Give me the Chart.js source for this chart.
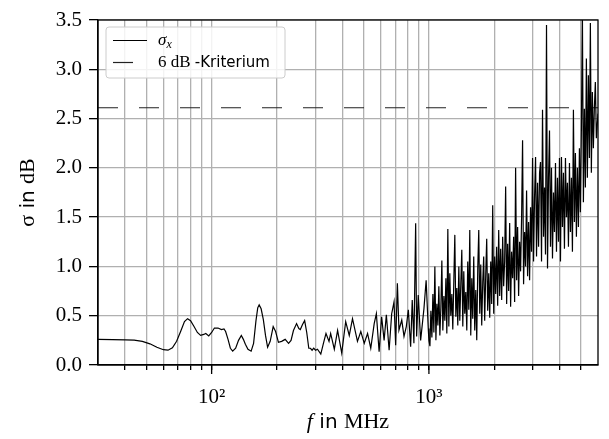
<!DOCTYPE html>
<html lang="de">
<head>
<meta charset="UTF-8">
<title>σ in dB</title>
<script src="https://cdn.jsdelivr.net/npm/chart.js"></script>
<style>
    body { margin: 0; background: #fff; }
    #wrap { width: 609px; height: 439px; }
</style>
</head>
<body>
<div id="wrap"><canvas id="sigmaChart" width="609" height="439"></canvas></div>
<script>
    // Frequenz in MHz
    const freqMHz = [
        30, 35, 40, 44, 48, 52, 56, 60, 63, 66, 69, 72, 75, 77.5, 80, 83, 86, 89, 92, 94, 97,
        100, 103, 107, 111, 114, 116, 119, 122, 125, 129, 133, 137, 140, 143, 147, 152, 156, 160,
        163, 165.5, 169, 173, 177, 181, 186, 192, 197, 203, 210, 218, 226, 232, 238, 246, 252,
        256, 262, 268, 274, 280, 285, 290, 295, 301, 307, 318, 327, 336, 347, 353, 367, 380, 397,
        414, 430, 445, 469, 486, 504, 522, 540, 560, 573, 590, 606, 622, 637, 656, 674, 691, 703,
        716, 728, 750, 768, 787, 804, 824, 838, 853, 869, 878, 893, 916, 949, 971, 993,
        1000, 1011, 1021, 1032, 1043, 1054, 1065, 1077, 1088, 1100,
        1111, 1123, 1135, 1147, 1159, 1172, 1184, 1197, 1209, 1222,
        1235, 1248, 1261, 1275, 1288, 1302, 1316, 1330, 1344, 1358,
        1373, 1387, 1402, 1417, 1432, 1447, 1462, 1478, 1494, 1509,
        1526, 1542, 1558, 1575, 1591, 1608, 1625, 1643, 1660, 1678,
        1696, 1714, 1732, 1750, 1769, 1787, 1806, 1826, 1845, 1864,
        1885, 1905, 1925, 1945, 1966, 1987, 2007, 2029, 2050, 2072,
        2095, 2117, 2139, 2162, 2185, 2208, 2231, 2255, 2279, 2303,
        2328, 2353, 2377, 2402, 2428, 2454, 2480, 2506, 2533, 2560,
        2587, 2615, 2642, 2670, 2698, 2727, 2756, 2785, 2815, 2845,
        2875, 2906, 2936, 2967, 2999, 3031, 3063, 3096, 3128, 3162,
        3196, 3230, 3263, 3298, 3333, 3369, 3404, 3440, 3477, 3514,
        3552, 3589, 3627, 3665, 3704, 3744, 3783, 3824, 3864, 3905,
        3947, 3989, 4031, 4074, 4117, 4161, 4205, 4250, 4295, 4340,
        4387, 4434, 4480, 4528, 4576, 4624, 4673, 4723, 4773, 4824,
        4876, 4928, 4979, 5032, 5085, 5140, 5194, 5249, 5305, 5361,
        5419, 5477, 5534, 5592, 5652, 5712, 5772, 5834, 5896, 6000
    ];
    // sigma_x in dB
    const sigmaX = [
        0.26, 0.258, 0.255, 0.252, 0.24, 0.215, 0.18, 0.155, 0.15, 0.175, 0.24, 0.34, 0.44, 0.47, 0.45, 0.39, 0.33, 0.30, 0.31, 0.32, 0.295,
        0.33, 0.375, 0.375, 0.36, 0.365, 0.34, 0.26, 0.17, 0.14, 0.17, 0.25, 0.30, 0.26, 0.21, 0.16, 0.14, 0.22, 0.45,
        0.58, 0.61, 0.57, 0.46, 0.30, 0.18, 0.24, 0.39, 0.34, 0.23, 0.24, 0.26, 0.22, 0.25, 0.35, 0.42, 0.37,
        0.36, 0.41, 0.45, 0.33, 0.17, 0.17, 0.15, 0.17, 0.15, 0.16, 0.11, 0.22, 0.32, 0.24, 0.32, 0.16, 0.35, 0.12,
        0.44, 0.30, 0.47, 0.24, 0.34, 0.22, 0.32, 0.17, 0.42, 0.52, 0.135, 0.49, 0.25, 0.51, 0.15, 0.52, 0.64, 0.20,
        0.83, 0.355, 0.456, 0.29, 0.39, 0.56, 0.186, 0.66, 0.22, 1.437, 0.29, 0.71, 0.25, 0.575, 0.86, 0.37,
        0.25, 0.19, 0.55, 0.28, 0.72, 0.33, 1.0, 0.25, 0.62, 0.40,
        0.80, 0.30, 0.58, 1.06, 0.35, 0.70, 0.45, 0.88, 0.32, 1.38,
        0.39, 0.93, 0.50, 0.72, 0.36, 0.85, 1.32, 0.49, 0.78, 0.40,
        1.0, 0.45, 0.82, 1.17, 0.39, 0.95, 0.52, 0.74, 0.35, 1.05,
        0.56, 1.37, 0.30, 0.88, 0.47, 1.10, 0.35, 0.76, 0.25, 0.98,
        1.37, 0.52, 1.02, 0.40, 0.84, 1.10, 0.45, 0.92, 1.28, 0.55,
        0.93, 0.48, 1.05, 0.62, 1.62, 0.52, 1.10, 0.72, 1.20, 0.60,
        1.37, 0.70, 1.18, 0.66, 1.30, 0.80, 1.05, 1.81, 0.62, 1.23,
        0.75, 1.44, 0.59, 1.15, 0.88, 1.30, 0.64, 2.0, 0.86, 1.40,
        0.70, 1.25, 0.95, 1.50, 2.28, 0.82, 1.35, 1.0, 1.77, 0.90,
        1.45, 0.86, 1.60, 1.15, 2.10, 1.05, 1.70, 2.11, 1.10, 1.85,
        1.20, 1.95, 2.06, 1.05, 2.59, 1.30, 1.80, 1.12, 3.45, 0.98,
        1.90, 2.38, 1.20, 2.00, 1.08, 1.75, 1.35, 2.05, 1.15, 1.90,
        1.25, 2.10, 1.05, 2.11, 1.40, 1.95, 1.18, 2.10, 1.50, 1.85,
        1.20, 2.05, 1.35, 1.90, 1.15, 2.59, 1.45, 2.15, 1.30, 2.00,
        1.40, 2.20, 1.55, 2.40, 3.60, 1.65, 2.60, 1.80, 3.11, 1.90,
        2.94, 2.10, 3.47, 1.95, 2.77, 2.20, 2.60, 2.87, 2.30, 2.55
    ];
    const criterionLevel = 2.61;   // 6 dB -Kriterium
    const xRange = [30, 6000];
    const yRange = [0, 3.5];
    const xGridValues = [40, 50, 60, 70, 80, 90, 100, 200, 300, 400, 500, 600, 700, 800, 900,
                         1000, 2000, 3000, 4000, 5000];
    const xMajorValues = [100, 1000];
    const xTickLabels = ['10²', '10³'];

    const SERIF = "'Liberation Serif', serif";
    const SANS = "'DejaVu Sans', sans-serif";

    // Text aus Stücken mit unterschiedlicher Schrift
    function drawPieces(ctx, pieces, x, y, align) {
        let total = 0;
        pieces.forEach(p => { ctx.font = p.font; total += ctx.measureText(p.text).width; });
        let cx = align === 'center' ? x - total / 2 : x;
        pieces.forEach(p => {
            ctx.font = p.font;
            ctx.fillText(p.text, cx, y + (p.dy || 0));
            cx += ctx.measureText(p.text).width;
        });
    }

    const extras = {
        id: 'extras',
        afterDraw(chart) {
            const ctx = chart.ctx;
            const a = chart.chartArea;
            const xs = chart.scales.x;
            ctx.save();
            ctx.strokeStyle = '#000';
            ctx.lineWidth = 1.3;
            ctx.strokeRect(a.left, a.top, a.right - a.left, a.bottom - a.top);
            // lange Hauptstriche
            xMajorValues.forEach(v => {
                const px = xs.getPixelForValue(v);
                ctx.beginPath();
                ctx.moveTo(px, a.bottom);
                ctx.lineTo(px, a.bottom + 9);
                ctx.stroke();
            });

            ctx.fillStyle = '#000';
            ctx.textBaseline = 'alphabetic';
            // x-Achsentitel
            drawPieces(ctx, [
                {text: 'f', font: 'italic 22px ' + SERIF},
                {text: ' in ', font: '20px ' + SANS},
                {text: 'MHz', font: '22px ' + SERIF}
            ], (a.left + a.right) / 2, 428, 'center');
            // y-Achsentitel
            ctx.save();
            ctx.translate(34, (a.top + a.bottom) / 2);
            ctx.rotate(-Math.PI / 2);
            drawPieces(ctx, [
                {text: 'σ', font: '22px ' + SERIF},
                {text: ' in ', font: '20px ' + SANS},
                {text: 'dB', font: '22px ' + SERIF}
            ], 0, 0, 'center');
            ctx.restore();

            // Legende
            const lx = 106, ly = 27, lw = 179, lh = 51, r = 3;
            ctx.beginPath();
            ctx.roundRect(lx, ly, lw, lh, r);
            ctx.fillStyle = 'rgba(255,255,255,0.85)';
            ctx.fill();
            ctx.strokeStyle = '#cccccc';
            ctx.lineWidth = 1;
            ctx.stroke();

            ctx.strokeStyle = '#000';
            ctx.lineWidth = 1.2;
            ctx.beginPath();
            ctx.moveTo(113, 40.5);
            ctx.lineTo(147, 40.5);
            ctx.stroke();
            ctx.strokeStyle = '#222';
            ctx.setLineDash([20, 21]);
            ctx.beginPath();
            ctx.moveTo(113, 62.5);
            ctx.lineTo(147, 62.5);
            ctx.stroke();
            ctx.setLineDash([]);

            ctx.fillStyle = '#000';
            drawPieces(ctx, [
                {text: 'σ', font: 'italic 17px ' + SERIF},
                {text: 'x', font: 'italic 12px ' + SERIF, dy: 3}
            ], 158, 45, 'left');
            drawPieces(ctx, [
                {text: '6 dB ', font: '17px ' + SERIF},
                {text: '-Kriterium', font: '15px ' + SANS}
            ], 158, 67, 'left');
            ctx.restore();
        }
    };

    const ctx = document.getElementById('sigmaChart').getContext('2d');
    new Chart(ctx, {
        type: 'line',
        data: {
            datasets: [
                {
                    label: 'σx',
                    data: freqMHz.map((f, i) => ({x: f, y: sigmaX[i]})),
                    borderColor: '#000',
                    borderWidth: 1.2,
                    pointRadius: 0,
                    tension: 0
                },
                {
                    label: '6 dB -Kriterium',
                    data: [{x: xRange[0], y: criterionLevel}, {x: xRange[1], y: criterionLevel}],
                    borderColor: '#222',
                    borderWidth: 1.2,
                    borderDash: [20, 21],
                    pointRadius: 0
                }
            ]
        },
        options: {
            responsive: false,
            animation: false,
            layout: {padding: {top: 20, right: 11, left: 0, bottom: 0}},
            plugins: {legend: {display: false}, tooltip: {enabled: false}},
            scales: {
                x: {
                    type: 'logarithmic',
                    min: xRange[0],
                    max: xRange[1],
                    afterBuildTicks: scale => { scale.ticks = xGridValues.map(v => ({value: v})); },
                    afterFit: scale => { scale.height = 74; },
                    ticks: {
                        autoSkip: false,
                        maxRotation: 0,
                        padding: 15,
                        color: '#000',
                        font: {family: SERIF, size: 21},
                        callback: v => {
                            const k = xMajorValues.indexOf(v);
                            return k >= 0 ? xTickLabels[k] : '';
                        }
                    },
                    grid: {color: '#b0b0b0', lineWidth: 1.3, tickColor: '#000', tickLength: 5},
                    border: {display: true, color: '#000', width: 1.3}
                },
                y: {
                    min: yRange[0],
                    max: yRange[1],
                    afterFit: scale => { scale.width = 98; },
                    ticks: {
                        stepSize: 0.5,
                        padding: 7,
                        color: '#000',
                        font: {family: SERIF, size: 21},
                        callback: v => v.toFixed(1)
                    },
                    grid: {color: '#b0b0b0', lineWidth: 1.3, tickColor: '#000', tickLength: 9},
                    border: {display: true, color: '#000', width: 1.3}
                }
            }
        },
        plugins: [extras]
    });
</script>
</body>
</html>
